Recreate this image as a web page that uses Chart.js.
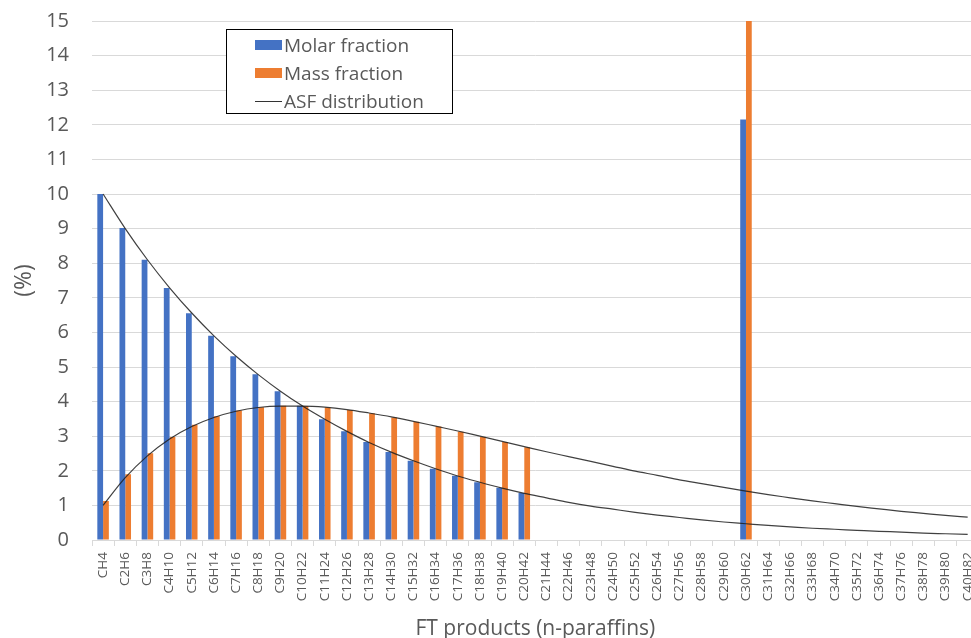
<!DOCTYPE html>
<html>
<head>
<meta charset="utf-8">
<script src="https://cdn.jsdelivr.net/npm/chart.js@4.4.1/dist/chart.umd.min.js"></script>
<style>
  html, body { margin: 0; padding: 0; background: #fff; }
  #wrap { position: relative; width: 971px; height: 638px; overflow: hidden; }
  #box { position: absolute; left: 0; top: -14px; width: 990px; height: 652px; }
  #legend {
    position: absolute; left: 226px; top: 29px; width: 225px; height: 83px;
    border: 1px solid #000; background: #fff;
    font-family: "Open Sans", sans-serif; font-size: 19px; color: #595959;
  }
  .row { position: absolute; left: 28px; height: 28px; display: flex; align-items: center; }
  .sw { width: 27px; height: 10px; margin-right: 2px; }
  .ln { width: 27px; height: 0; border-top: 1px solid #333; margin-right: 2px; }
</style>
</head>
<body>
<div id="wrap">
  <div id="box"><canvas id="c" width="990" height="652"></canvas></div>
  <div id="legend">
    <div class="row" style="top:1px"><div class="sw" style="background:#4472C4"></div>Molar fraction</div>
    <div class="row" style="top:29px"><div class="sw" style="background:#ED7D31"></div>Mass fraction</div>
    <div class="row" style="top:57px"><div class="ln"></div>ASF distribution</div>
  </div>
</div>
<script>
// n-paraffin products C1 .. C40
const products = [
  'CH4','C2H6','C3H8','C4H10','C5H12','C6H14','C7H16','C8H18','C9H20','C10H22',
  'C11H24','C12H26','C13H28','C14H30','C15H32','C16H34','C17H36','C18H38','C19H40','C20H42',
  'C21H44','C22H46','C23H48','C24H50','C25H52','C26H54','C27H56','C28H58','C29H60','C30H62',
  'C31H64','C32H66','C33H68','C34H70','C35H72','C36H74','C37H76','C38H78','C39H80','C40H82'
];

// Molar fraction (%), C1..C20 and the lumped C30 cut
const molarFraction = [
  10.00, 9.02, 8.10, 7.28, 6.55, 5.90, 5.31, 4.79, 4.30, 3.88,
  3.49, 3.14, 2.83, 2.54, 2.29, 2.06, 1.86, 1.67, 1.51, 1.36,
  null, null, null, null, null, null, null, null, null, 12.15,
  null, null, null, null, null, null, null, null, null, null
];

// Mass fraction (%)
const massFraction = [
  1.13, 1.90, 2.51, 2.98, 3.33, 3.58, 3.74, 3.84, 3.88, 3.87,
  3.83, 3.76, 3.66, 3.54, 3.42, 3.28, 3.13, 2.98, 2.83, 2.68,
  null, null, null, null, null, null, null, null, null, 15.0,
  null, null, null, null, null, null, null, null, null, null
];

// ASF distribution, molar basis (%)
const asfMolar = [
  10.00, 9.00, 8.10, 7.29, 6.56, 5.90, 5.31, 4.78, 4.30, 3.87,
  3.49, 3.14, 2.82, 2.54, 2.29, 2.06, 1.85, 1.67, 1.50, 1.35,
  1.22, 1.09, 0.98, 0.89, 0.80, 0.72, 0.65, 0.58, 0.52, 0.47,
  0.42, 0.38, 0.34, 0.31, 0.28, 0.25, 0.23, 0.20, 0.18, 0.16
];

// ASF distribution, mass basis (%)
const asfMass = [
  1.00, 1.80, 2.43, 2.92, 3.28, 3.54, 3.72, 3.83, 3.87, 3.87,
  3.84, 3.77, 3.67, 3.56, 3.43, 3.29, 3.15, 3.00, 2.85, 2.70,
  2.55, 2.41, 2.27, 2.13, 1.99, 1.87, 1.74, 1.63, 1.52, 1.41,
  1.31, 1.22, 1.13, 1.05, 0.97, 0.90, 0.83, 0.77, 0.71, 0.66
];

const yTicks = [0,1,2,3,4,5,6,7,8,9,10,11,12,13,14,15];

const TXT = '#595959';
const GRID = '#d9d9d9';
const FONT = '"Open Sans", sans-serif';

const lineStyle = {
  type: 'line', borderColor: 'rgba(30,30,30,0.85)', borderWidth: 1.2,
  pointRadius: 0, fill: false, cubicInterpolationMode: 'monotone', order: 0
};

new Chart(document.getElementById('c'), {
  data: {
    labels: products,
    datasets: [
      { type: 'bar', label: 'Molar fraction', data: molarFraction, backgroundColor: '#4472C4',
        categoryPercentage: 0.52, barPercentage: 1.0, order: 1 },
      { type: 'bar', label: 'Mass fraction', data: massFraction, backgroundColor: '#ED7D31',
        categoryPercentage: 0.52, barPercentage: 1.0, order: 1 },
      Object.assign({ label: 'ASF distribution', data: asfMolar }, lineStyle),
      Object.assign({ label: 'ASF distribution (mass)', data: asfMass }, lineStyle)
    ]
  },
  options: {
    responsive: false,
    animation: false,
    layout: { padding: { top: 7, right: 10, left: 0, bottom: 0 } },
    plugins: { legend: { display: false }, tooltip: { enabled: false } },
    scales: {
      x: {
        offset: true,
        grid: { display: true, drawOnChartArea: false, drawTicks: true, tickLength: 6, color: GRID, offset: true },
        border: { display: true, color: GRID, width: 1 },
        ticks: { color: TXT, font: { family: FONT, size: 13.5 }, minRotation: 90, maxRotation: 90, autoSkip: false, padding: 6 },
        title: { display: true, text: 'FT products (n-paraffins)', color: TXT,
                 font: { family: FONT, size: 21, lineHeight: 1.0 }, padding: { top: 0, bottom: -2 } },
        afterFit: s => { s.height = 98; }
      },
      y: {
        min: 0, max: 15,
        grid: { color: GRID, lineWidth: 1, drawTicks: false },
        border: { display: false },
        afterBuildTicks: s => { s.ticks = yTicks.map(v => ({ value: v })); },
        ticks: { color: TXT, font: { family: FONT, size: 20 }, padding: 23 },
        title: { display: true, text: '(%)', color: TXT,
                 font: { family: FONT, size: 23, lineHeight: 1.2 }, padding: { top: 11, bottom: 0 } },
        afterFit: s => { s.width = 92; }
      }
    }
  }
});
</script>
</body>
</html>
